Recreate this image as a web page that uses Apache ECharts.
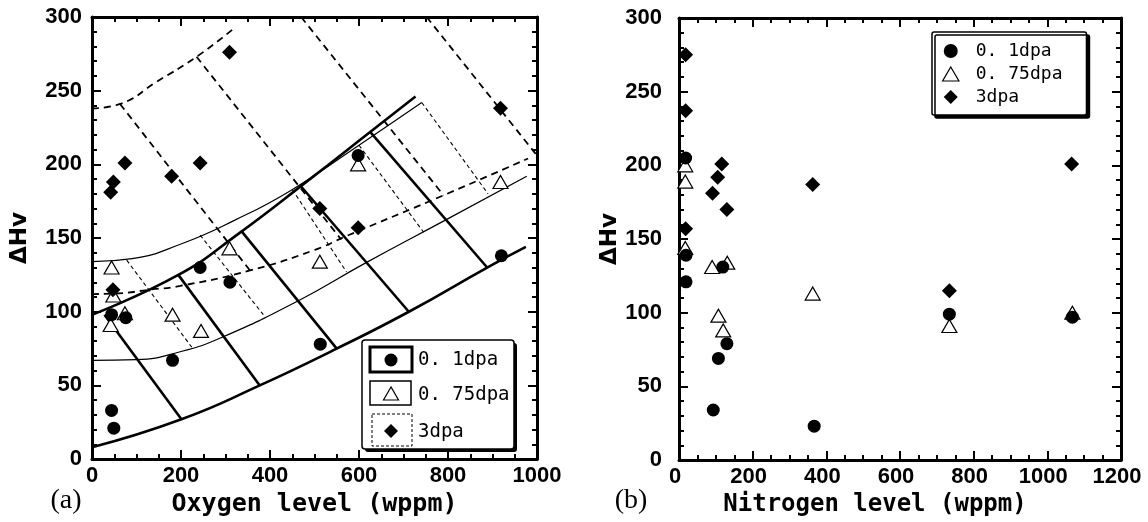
<!DOCTYPE html>
<html>
<head>
<meta charset="utf-8">
<script src="https://cdn.jsdelivr.net/npm/echarts@6/dist/echarts.min.js"></script>
<style>
  html, body { margin: 0; padding: 0; background: #fff; }
  #chart { width: 1148px; height: 522px; }
</style>
</head>
<body>
<div id="chart"></div>
<script>
// ---------- tick labels / axis ranges ----------
const oxygenTicks = [0, 200, 400, 600, 800, 1000];
const nitrogenTicks = [0, 200, 400, 600, 800, 1000, 1200];
const hvTicks = [0, 50, 100, 150, 200, 250, 300];

// ---------- series names ----------
const seriesNames = ['0. 1dpa', '0. 75dpa', '3dpa'];

// ---------- (a) Oxygen level vs ΔHv ----------
const oxy_01dpa = [[44, 33], [49, 21], [44, 98], [76, 96], [181, 67], [243, 130], [310, 120], [513, 78], [598, 206], [920, 138]];
const oxy_075dpa = [[44, 130], [48, 111], [42, 91], [74, 99], [181, 98], [245, 87], [309, 143], [512, 134], [598, 200], [918, 188]];
const oxy_3dpa = [[309, 276], [74, 201], [48, 188], [42, 181], [179, 192], [243, 201], [512, 170], [598, 157], [918, 238], [47, 115]];

// ---------- (b) Nitrogen level vs ΔHv ----------
const nit_01dpa = [[18, 205], [19, 139], [19, 121], [119, 131], [130, 79], [107, 69], [93, 34], [367, 23], [734, 99], [1068, 97]];
const nit_075dpa = [[17, 200], [17, 189], [17, 144], [90, 131], [131, 134], [107, 98], [120, 88], [363, 113], [734, 91], [1068, 100]];
const nit_3dpa = [[18, 275], [18, 237], [116, 201], [105, 192], [91, 181], [130, 170], [18, 157], [363, 187], [734, 115], [1066, 201]];

// ---------- guide grids drawn in panel (a) ----------
const curve01Lower = [[0, 8], [201, 27], [377, 50], [550, 75], [712, 100], [888, 130], [975, 144]];
const curve01Upper = [[0, 98], [194, 125], [325, 152], [494, 191], [625, 222], [727, 246]];
const curve075Lower = [[0, 67], [100, 67.5], [200, 73], [295, 83], [467, 108], [614, 133], [793, 162], [977, 192]];
const curve075Upper = [[0, 134], [90, 136], [200, 146], [320, 162], [445, 182], [590, 211], [741, 242]];
const curve3Upper = [[0, 238], [63, 241], [145, 256], [235, 273], [318, 292]];
const curve3Lower = [[0, 112], [60, 112.5], [130, 115], [198, 117.5], [355, 128], [501, 142], [569, 151], [790, 179], [980, 204]];
const cross01 = [[[201, 27], [28, 98]], [[377, 50], [194, 125]], [[550, 75], [335, 155]], [[712, 100], [467, 186]], [[888, 130], [625, 222]]];
const cross075 = [[[78, 135], [224, 76]], [[243, 152], [385, 98]], [[450, 183], [572, 127]], [[600, 213], [745, 154]], [[741, 242], [890, 180]]];
const cross3 = [[[63, 241], [355, 128]], [[235, 273], [560, 149]], [[470, 300], [790, 179]], [[752, 300], [1000, 206]]];

// ---------- styles ----------
const monoFont = '"DejaVu Sans Mono", "Liberation Mono", monospace';
const tickFont = '"Liberation Sans", Arial, sans-serif';
const styleThick = { color: '#000', width: 2.6, type: 'solid' };
const styleThin = { color: '#000', width: 1.2, type: 'solid' };
const styleThinDash = { color: '#000', width: 1.1, type: [4, 3] };
const styleDash = { color: '#000', width: 1.8, type: [7, 5] };

function lineSeries(data, lineStyle, smooth) {
  return {
    type: 'line', xAxisIndex: 0, yAxisIndex: 0, data: data,
    showSymbol: false, symbol: 'none', smooth: smooth ? 0.5 : false,
    lineStyle: lineStyle, silent: true, z: 2,
    clip: true, animation: false
  };
}

const series = [];
[[curve01Lower, styleThick], [curve01Upper, styleThick],
 [curve075Lower, styleThin], [curve075Upper, styleThin],
 [curve3Upper, styleDash], [curve3Lower, styleDash]].forEach(([d, s]) => series.push(lineSeries(d, s, true)));
cross01.forEach(seg => series.push(lineSeries(seg, styleThick, false)));
cross075.forEach(seg => series.push(lineSeries(seg, styleThinDash, false)));
cross3.forEach(seg => series.push(lineSeries(seg, styleDash, false)));

const triPath = 'path://M7,0 L14,12 L0,12 Z';
const diaPath = 'path://M7,0 L14,7 L7,14 L0,7 Z';
const markerStyles = [
  { symbol: 'circle', symbolSize: 13, itemStyle: { color: '#000', opacity: 1 }, z: 4 },
  { symbol: 'triangle', symbolSize: [15, 13], itemStyle: { color: '#fff', borderColor: '#000', borderWidth: 1.2, opacity: 1 }, z: 3 },
  { symbol: 'diamond', symbolSize: [15, 15], itemStyle: { color: '#000', opacity: 1 }, z: 5 }
];
const oxySets = [oxy_01dpa, oxy_075dpa, oxy_3dpa];
const nitSets = [nit_01dpa, nit_075dpa, nit_3dpa];
[1, 0, 2].forEach(i => {
  series.push(Object.assign({ type: 'scatter', name: seriesNames[i], xAxisIndex: 0, yAxisIndex: 0, data: oxySets[i], animation: false }, markerStyles[i]));
  series.push(Object.assign({ type: 'scatter', name: seriesNames[i], xAxisIndex: 2, yAxisIndex: 2, data: nitSets[i], animation: false }, markerStyles[i]));
});

const plainNum = v => String(v);

function xAxisDef(grid, ticks, pos, labels, extra) {
  return Object.assign({
    type: 'value', gridIndex: grid, position: pos,
    min: ticks[0], max: ticks[ticks.length - 1], interval: ticks[1] - ticks[0],
    axisLine: { show: true, onZero: false, lineStyle: { color: '#000', width: 3 } },
    axisTick: { show: true, inside: true, length: 9, lineStyle: { color: '#000', width: 2 } },
    minorTick: { show: true, splitNumber: 4, length: 5, lineStyle: { color: '#000', width: 2 } },
    splitLine: { show: false },
    axisLabel: { show: labels, color: '#000', fontSize: 22, fontWeight: 'bold', fontFamily: tickFont, margin: 6, formatter: plainNum }
  }, extra || {});
}
function yAxisDef(grid, pos, labels, margin, extra) {
  return Object.assign({
    type: 'value', gridIndex: grid, position: pos,
    min: hvTicks[0], max: hvTicks[hvTicks.length - 1], interval: hvTicks[1] - hvTicks[0],
    axisLine: { show: true, onZero: false, lineStyle: { color: '#000', width: 3 } },
    axisTick: { show: true, inside: true, length: 9, lineStyle: { color: '#000', width: 2 } },
    minorTick: { show: true, splitNumber: 5, length: 5, lineStyle: { color: '#000', width: 2 } },
    splitLine: { show: false },
    axisLabel: { show: labels, color: '#000', fontSize: 22, fontWeight: 'bold', fontFamily: tickFont, margin: margin, formatter: plainNum }
  }, extra || {});
}

const hvName = {
  name: 'ΔHv', nameLocation: 'middle', nameRotate: 90,
  nameTextStyle: { color: '#000', fontSize: 23, fontWeight: 'bold', fontFamily: '"DejaVu Sans", sans-serif' }
};

const option = {
  animation: false,
  backgroundColor: '#fff',
  grid: [
    { left: 92, top: 17, width: 445, height: 445 },
    { left: 679, top: 18, width: 442, height: 444 }
  ],
  xAxis: [
    xAxisDef(0, oxygenTicks, 'bottom', true, {
      name: 'Oxygen level (wppm)', nameLocation: 'middle', nameGap: 25,
      nameTextStyle: { color: '#000', fontSize: 25, fontWeight: 'bold', fontFamily: monoFont }
    }),
    xAxisDef(0, oxygenTicks, 'top', false),
    xAxisDef(1, nitrogenTicks, 'bottom', true, {
      name: 'Nitrogen level (wppm)', nameLocation: 'middle', nameGap: 25,
      nameTextStyle: { color: '#000', fontSize: 24, fontWeight: 'bold', fontFamily: monoFont, padding: [0, 50, 0, 0] },
      axisLabel: { show: true, color: '#000', fontSize: 22, fontWeight: 'bold', fontFamily: tickFont, margin: 6, padding: [0, 8, 0, 0], formatter: plainNum }
    }),
    xAxisDef(1, nitrogenTicks, 'top', false)
  ],
  yAxis: [
    yAxisDef(0, 'left', true, 10, Object.assign({ nameGap: 60 }, hvName)),
    yAxisDef(0, 'right', false, 8),
    yAxisDef(1, 'left', true, 17, Object.assign({ nameGap: 56 }, hvName)),
    yAxisDef(1, 'right', false, 8)
  ],
  legend: {
    data: [
      { name: seriesNames[0], icon: 'circle', itemStyle: { color: '#000', opacity: 1 } },
      { name: seriesNames[1], icon: triPath, itemStyle: { color: '#fff', borderColor: '#000', borderWidth: 1.2, opacity: 1 } },
      { name: seriesNames[2], icon: diaPath, itemStyle: { color: '#000', opacity: 1 } }
    ],
    orient: 'vertical', left: 932, top: 32, symbolKeepAspect: true,
    padding: [10, 24, 9, 10], itemWidth: 40, itemHeight: 14, itemGap: 5,
    textStyle: { fontFamily: monoFont, fontSize: 18, color: '#000' },
    borderColor: '#000', borderWidth: 1.5, borderRadius: 2, backgroundColor: '#fff',
    shadowColor: '#000', shadowOffsetX: 3, shadowOffsetY: 3, shadowBlur: 0,
    selectedMode: false
  },
  graphic: [
    { type: 'rect', z: 50, shape: { x: 365, y: 343, width: 152, height: 109, r: 3 }, style: { fill: '#000' } },
    { type: 'rect', z: 51, shape: { x: 362, y: 340, width: 152, height: 109, r: 3 }, style: { fill: '#fff', stroke: '#000', lineWidth: 1.5 } },
    { type: 'rect', z: 52, shape: { x: 370, y: 347, width: 42, height: 25 }, style: { fill: 'none', stroke: '#000', lineWidth: 3 } },
    { type: 'circle', z: 52, shape: { cx: 391, cy: 360, r: 6.5 }, style: { fill: '#000' } },
    { type: 'text', z: 52, x: 418, y: 360, style: { text: '0. 1dpa', font: '19px ' + monoFont, fill: '#000', verticalAlign: 'middle', align: 'left' } },
    { type: 'rect', z: 52, shape: { x: 370, y: 381, width: 41, height: 24 }, style: { fill: 'none', stroke: '#000', lineWidth: 1.5 } },
    { type: 'polygon', z: 52, shape: { points: [[391, 387], [383.5, 400], [398.5, 400]] }, style: { fill: '#fff', stroke: '#000', lineWidth: 1.2 } },
    { type: 'text', z: 52, x: 418, y: 395, style: { text: '0. 75dpa', font: '19px ' + monoFont, fill: '#000', verticalAlign: 'middle', align: 'left' } },
    { type: 'rect', z: 52, shape: { x: 372, y: 414, width: 40, height: 32 }, style: { fill: 'none', stroke: '#000', lineWidth: 1, lineDash: [3, 2] } },
    { type: 'polygon', z: 52, shape: { points: [[391, 424], [398, 431], [391, 438], [384, 431]] }, style: { fill: '#000' } },
    { type: 'text', z: 52, x: 418, y: 432, style: { text: '3dpa', font: '19px ' + monoFont, fill: '#000', verticalAlign: 'middle', align: 'left' } },
    { type: 'text', z: 52, x: 66, y: 501, style: { text: '(a)', font: '28px "Liberation Serif", "Times New Roman", serif', fill: '#000', verticalAlign: 'middle', align: 'center' } },
    { type: 'text', z: 52, x: 631, y: 501, style: { text: '(b)', font: '28px "Liberation Serif", "Times New Roman", serif', fill: '#000', verticalAlign: 'middle', align: 'center' } }
  ],
  series: series
};

const chart = echarts.init(document.getElementById('chart'), null, { renderer: 'canvas' });
chart.setOption(option);
</script>
</body>
</html>
